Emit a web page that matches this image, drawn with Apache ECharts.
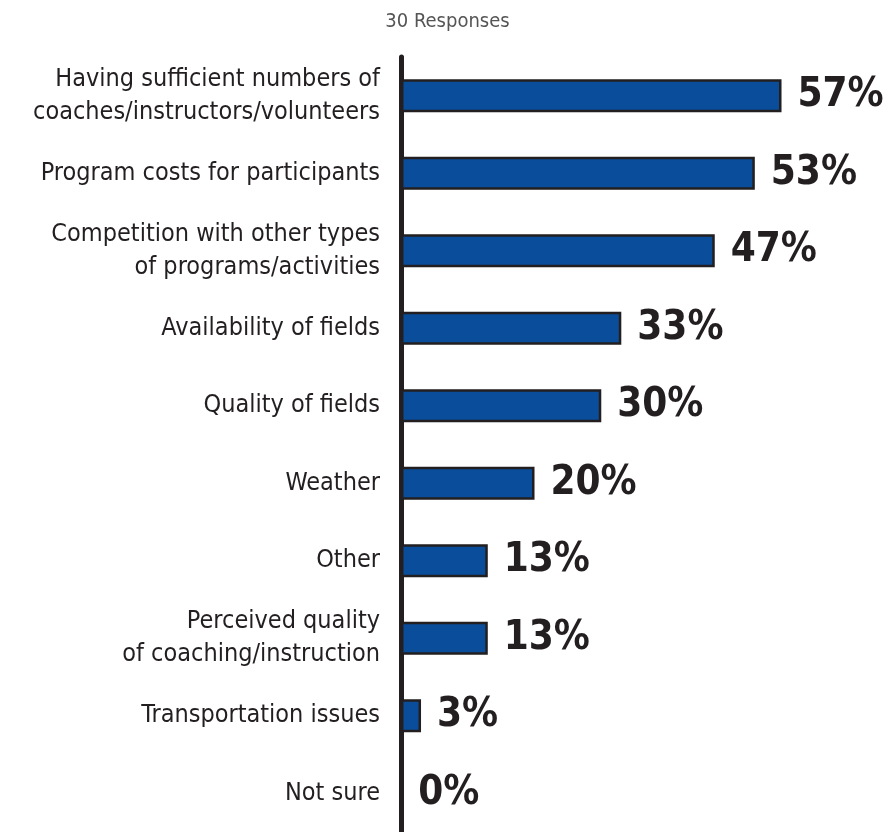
<!DOCTYPE html>
<html lang="en">
<head>
    <meta charset="utf-8">
    <title>30 Responses</title>
    <style>
        html, body { margin: 0; padding: 0; background: #fff; }
        #main { width: 895px; height: 832px; }
    </style>
</head>
<body>
<div id="main"></div>
<script src="https://cdn.jsdelivr.net/npm/echarts@6/dist/echarts.min.js"></script>
<script type="text/javascript">
    // categories top to bottom
    var categories = [
        'Having sufficient numbers of\ncoaches/instructors/volunteers',
        'Program costs for participants',
        'Competition with other types\nof programs/activities',
        'Availability of fields',
        'Quality of fields',
        'Weather',
        'Other',
        'Perceived quality\nof coaching/instruction',
        'Transportation issues',
        'Not sure'
    ];
    // percent of responses
    var values = [57, 53, 47, 33, 30, 20, 13, 13, 3, 0];

    var narrow = '"Liberation Sans Narrow", "DejaVu Sans Condensed", "Roboto", sans-serif';

    var myChart = echarts.init(document.getElementById('main'));
    var option = {
        animation: false,
        title: {
            text: '30 Responses',
            left: 'center',
            top: 7,
            textStyle: {
                fontFamily: narrow,
                fontSize: 20,
                fontWeight: 'normal',
                color: '#555555'
            }
        },
        grid: {
            left: 401,
            right: 0,
            top: 57,
            bottom: -5,
            containLabel: false
        },
        xAxis: {
            type: 'value',
            min: 0,
            max: 74,
            show: false
        },
        yAxis: {
            type: 'category',
            inverse: true,
            data: categories,
            axisLine: {
                show: true,
                lineStyle: { color: '#231f20', width: 5 }
            },
            axisTick: { show: false },
            axisLabel: {
                margin: 21,
                fontFamily: narrow,
                fontSize: 25,
                lineHeight: 33,
                color: '#231f20',
                align: 'right'
            }
        },
        series: [
            {
                type: 'bar',
                data: values,
                barWidth: 33,
                itemStyle: {
                    color: '#0a4e9b',
                    borderColor: '#231f20',
                    borderWidth: 2.5
                },
                label: {
                    show: true,
                    position: 'right',
                    distance: 16,
                    formatter: '{c}%',
                    fontFamily: narrow,
                    fontSize: 40,
                    fontWeight: 'bold',
                    color: '#231f20'
                }
            }
        ]
    };
    myChart.setOption(option);
</script>
</body>
</html>
